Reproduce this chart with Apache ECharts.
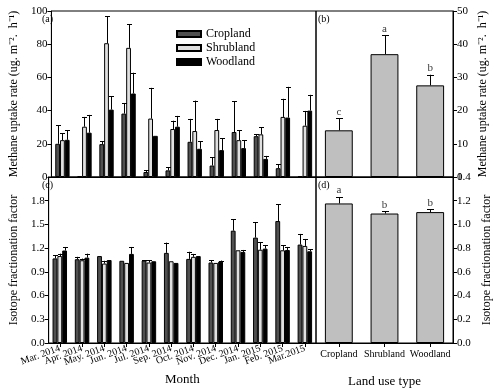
<!DOCTYPE html>
<html><head><meta charset="utf-8">
<script src="https://cdn.jsdelivr.net/npm/echarts@6/dist/echarts.min.js"></script>
<style>html,body{margin:0;padding:0;background:#fff}#c{width:494px;height:390px}</style>
</head><body><div id="c"></div>
<script>
const months = ['Mar. 2014','Apr. 2014','May. 2014','Jun. 2014','Jul. 2014','Sep. 2014','Oct. 2014','Nov. 2014','Dec. 2014','Jan. 2015','Feb. 2015','Mar.2015'];
const seriesNames = ['Cropland','Shrubland','Woodland'];

const uptakeCrop = [20, 0.4, 19.8, 38.2, 3, 4, 21.2, 6.9, 27.1, 24.6, 5.3, 0.4];
const uptakeCropErr = [11.3, 0, 1.8, 6.4, 1, 1.9, 13.8, 5, 18.4, 1.3, 2.4, 0];
const uptakeShrub = [22.2, 30.3, 80.6, 77.8, 35.2, 28.9, 27.7, 28.3, 22.2, 25.7, 36.2, 30.9];
const uptakeShrubErr = [4.3, 5.9, 16.2, 14.1, 18.5, 5, 18.3, 6.7, 6.1, 4.4, 10.9, 8.9];
const uptakeWood = [22.4, 26.7, 40.6, 50.3, 24.8, 30.3, 17, 16.2, 17.4, 10.9, 35.8, 40];
const uptakeWoodErr = [5.9, 10.7, 8.1, 12.5, 0, 6.5, 4.6, 7.2, 4.8, 1.8, 18.5, 9.5];

const fracCrop = [1.07, 1.06, 1.10, 1.04, 1.043, 1.14, 1.064, 1.018, 1.421, 1.333, 1.543, 1.245];
const fracCropErr = [0.04, 0.03, 0, 0, 0.007, 0.13, 0.09, 0.03, 0.147, 0.193, 0.215, 0.135];
const fracShrub = [1.10, 1.047, 1.005, 1.013, 1.018, 1.034, 1.09, 1.013, 1.173, 1.18, 1.173, 1.228];
const fracShrubErr = [0.03, 0.021, 0.035, 0, 0.032, 0, 0.037, 0, 0, 0.098, 0.063, 0.088];
const fracWood = [1.17, 1.08, 1.05, 1.127, 1.034, 1.013, 1.10, 1.03, 1.152, 1.194, 1.177, 1.16];
const fracWoodErr = [0.045, 0.05, 0, 0.088, 0, 0, 0, 0.013, 0.025, 0.046, 0.038, 0.026];

const landTypes = ['Cropland','Shrubland','Woodland'];
const landUptake = [14.06, 37.0, 27.6];
const landUptakeErr = [3.6, 5.7, 3.2];
const landUptakeLetters = ['c','a','b'];
const landFrac = [1.177, 1.092, 1.104];
const landFracErr = [0.054, 0.02, 0.025];
const landFracLetters = ['a','b','b'];

const yTicksA = [0, 100, 20];
const yTicksB = [0, 50, 10];
const yTicksC = [0, 2.1, 0.3];
const yTicksD = [0, 1.4, 0.2];

const FONT = "'Liberation Serif', 'Times New Roman', serif";
const colors = ['#505050', '#e0e0e0', '#000000'];
const landColor = '#bfbfbf';
const GAP_M = 0.35, GAP_L = 0.39;

function errSeries(xi, yi, vals, errs, idx, n, gap, cap) {
  return {
    type: 'custom', xAxisIndex: xi, yAxisIndex: yi, z: 5,
    data: vals.map((v, i) => [i, v, errs[i]]),
    renderItem: function (params, api) {
      const e = api.value(2);
      if (!e) return null;
      const band = api.size([1, 0])[0];
      const bw = band * (1 - gap) / n;
      const base = api.coord([api.value(0), api.value(1)]);
      const top = api.coord([api.value(0), api.value(1) + e]);
      const x = Math.round(base[0] + (idx - (n - 1) / 2) * bw) + 0.5;
      const st = {stroke: '#000', lineWidth: 1};
      return {type: 'group', children: [
        {type: 'line', shape: {x1: x, y1: base[1], x2: x, y2: top[1]}, style: st},
        {type: 'line', shape: {x1: x - cap, y1: Math.round(top[1]) + 0.5, x2: x + cap, y2: Math.round(top[1]) + 0.5}, style: st}
      ]};
    }
  };
}
function barSeries(name, xi, yi, vals, color, gap) {
  return {
    name: name, type: 'bar', xAxisIndex: xi, yAxisIndex: yi, data: vals,
    barGap: '0%', barCategoryGap: (gap * 100) + '%',
    itemStyle: {color: color, borderColor: '#000', borderWidth: 1},
    emphasis: {disabled: true}
  };
}
function letterSeries(xi, yi, vals, errs, letters) {
  return {
    type: 'scatter', xAxisIndex: xi, yAxisIndex: yi, symbolSize: 0, z: 6,
    data: vals.map((v, i) => ({value: [i, v + errs[i]], label: {formatter: letters[i]}})),
    label: {show: true, position: 'top', distance: 1, color: '#000', fontFamily: FONT, fontSize: 11}
  };
}
const axisLbl = {color: '#000', fontFamily: FONT, fontSize: 11};
const nameStyle = {color: '#000', fontFamily: FONT, fontSize: 12};
const tick = {show: true, length: 4, lineStyle: {color: '#000'}};
const line = {show: true, lineStyle: {color: '#000', width: 1}};
function grid(l, t, w, h) { return {left: l, top: t, width: w, height: h, show: true, borderColor: '#000', borderWidth: 1, containLabel: false}; }

const option = {
  animation: false,
  backgroundColor: '#fff',
  grid: [grid(39, 11, 277, 166), grid(316, 11, 137, 166), grid(39, 177, 277, 166), grid(316, 177, 137, 166)],
  legend: {
    data: seriesNames.map(n => ({name: n, icon: 'rect'})), orient: 'vertical', left: 176, top: 27, padding: 0,
    itemWidth: 24, itemHeight: 6, itemGap: 0,
    textStyle: {color: '#000', fontFamily: FONT, fontSize: 12, lineHeight: 14},
    selectedMode: false
  },
  xAxis: [
    {type: 'category', gridIndex: 0, data: months, axisLabel: {show: false}, axisTick: {show: false}, axisLine: line},
    {type: 'category', gridIndex: 1, data: landTypes, axisLabel: {show: false}, axisTick: {show: false}, axisLine: line},
    {type: 'category', gridIndex: 2, data: months, axisLine: line,
     axisTick: Object.assign({alignWithLabel: true}, tick),
     axisLabel: Object.assign({rotate: 20, margin: 5, interval: 0}, axisLbl, {fontSize: 10}),
     name: 'Month', nameLocation: 'middle', nameGap: 30, nameTextStyle: Object.assign({}, nameStyle, {fontSize: 13})},
    {type: 'category', gridIndex: 3, data: landTypes, axisLine: line,
     axisTick: Object.assign({alignWithLabel: true}, tick),
     axisLabel: Object.assign({margin: 6, interval: 0}, axisLbl, {fontSize: 10}),
     name: 'Land use type', nameLocation: 'middle', nameGap: 32, nameTextStyle: Object.assign({}, nameStyle, {fontSize: 13})}
  ],
  yAxis: [
    {type: 'value', gridIndex: 0, min: yTicksA[0], max: yTicksA[1], interval: yTicksA[2], splitLine: {show: false},
     axisLine: line, axisTick: tick, axisLabel: Object.assign({margin: 4}, axisLbl),
     name: 'Methane uptake rate (ug. m⁻².  h⁻¹)', nameLocation: 'middle', nameGap: 22, nameTextStyle: nameStyle},
    {type: 'value', gridIndex: 1, position: 'right', min: yTicksB[0], max: yTicksB[1], interval: yTicksB[2], splitLine: {show: false},
     axisLine: line, axisTick: tick, axisLabel: Object.assign({margin: 4}, axisLbl),
     name: 'Methane uptake rate (ug. m⁻².  h⁻¹)', nameLocation: 'middle', nameGap: 24, nameTextStyle: nameStyle},
    {type: 'value', gridIndex: 2, min: yTicksC[0], max: yTicksC[1], interval: yTicksC[2], splitLine: {show: false},
     axisLine: line, axisTick: tick,
     axisLabel: Object.assign({margin: 4, showMaxLabel: false, formatter: v => v.toFixed(1)}, axisLbl),
     name: 'Isotope fractionation factor', nameLocation: 'middle', nameGap: 26, nameTextStyle: nameStyle},
    {type: 'value', gridIndex: 3, position: 'right', min: yTicksD[0], max: yTicksD[1], interval: yTicksD[2], splitLine: {show: false},
     axisLine: line, axisTick: tick,
     axisLabel: Object.assign({margin: 4, formatter: v => v.toFixed(1)}, axisLbl),
     name: 'Isotope fractionation factor', nameLocation: 'middle', nameGap: 28, nameTextStyle: nameStyle}
  ],
  series: [
    barSeries('Cropland', 0, 0, uptakeCrop, colors[0], GAP_M),
    barSeries('Shrubland', 0, 0, uptakeShrub, colors[1], GAP_M),
    barSeries('Woodland', 0, 0, uptakeWood, colors[2], GAP_M),
    errSeries(0, 0, uptakeCrop, uptakeCropErr, 0, 3, GAP_M, 2.5),
    errSeries(0, 0, uptakeShrub, uptakeShrubErr, 1, 3, GAP_M, 2.5),
    errSeries(0, 0, uptakeWood, uptakeWoodErr, 2, 3, GAP_M, 2.5),
    barSeries('Cropland', 2, 2, fracCrop, colors[0], GAP_M),
    barSeries('Shrubland', 2, 2, fracShrub, colors[1], GAP_M),
    barSeries('Woodland', 2, 2, fracWood, colors[2], GAP_M),
    errSeries(2, 2, fracCrop, fracCropErr, 0, 3, GAP_M, 2.5),
    errSeries(2, 2, fracShrub, fracShrubErr, 1, 3, GAP_M, 2.5),
    errSeries(2, 2, fracWood, fracWoodErr, 2, 3, GAP_M, 2.5),
    barSeries('land uptake', 1, 1, landUptake, landColor, GAP_L),
    errSeries(1, 1, landUptake, landUptakeErr, 0, 1, GAP_L, 3.5),
    letterSeries(1, 1, landUptake, landUptakeErr, landUptakeLetters),
    barSeries('land frac', 3, 3, landFrac, landColor, GAP_L),
    errSeries(3, 3, landFrac, landFracErr, 0, 1, GAP_L, 3.5),
    letterSeries(3, 3, landFrac, landFracErr, landFracLetters)
  ],
  graphic: [
    {type: 'text', left: 42, top: 14, style: {text: '(a)', font: '10px ' + FONT, fill: '#000'}},
    {type: 'text', left: 318, top: 14, style: {text: '(b)', font: '10px ' + FONT, fill: '#000'}},
    {type: 'text', left: 42, top: 180, style: {text: '(c)', font: '10px ' + FONT, fill: '#000'}},
    {type: 'text', left: 318, top: 180, style: {text: '(d)', font: '10px ' + FONT, fill: '#000'}}
  ]
};
const chart = echarts.init(document.getElementById('c'), null, {renderer: 'canvas'});
chart.setOption(option);
</script>
</body></html>
